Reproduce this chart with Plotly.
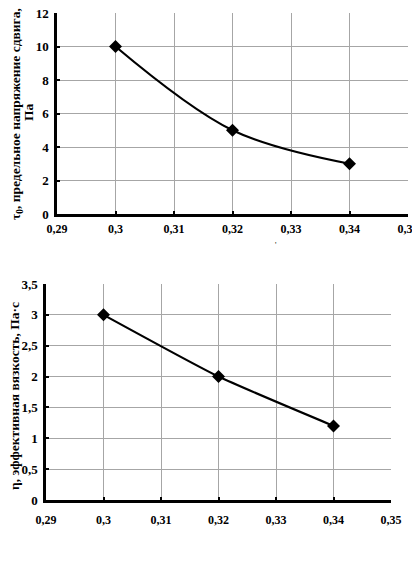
import plotly.graph_objects as go

# data
x_vals = [0.30, 0.32, 0.34]
tau0 = [10, 5, 3]
eta = [3, 2, 1.2]

FONT = "Liberation Serif"
# the page body has an 8px margin, so the figure is a bit smaller than the window
OFF = 8
W, H = 420 - OFF, 570 - OFF


def px(x, y):
    """window pixel position -> paper coordinates"""
    return (x - OFF) / W, 1 - (y - OFF) / H


def dom_x(a, b):
    return [max(0, (a - OFF) / W), min(1, (b - OFF) / W)]


def dom_y(top, bottom):
    return [max(0, 1 - (bottom - OFF) / H), min(1, 1 - (top - OFF) / H)]


fig = go.Figure()

fig.add_trace(go.Scatter(x=x_vals, y=tau0, mode="lines+markers",
                         line=dict(color="black", width=2.2, shape="spline"),
                         marker=dict(symbol="diamond", size=10, color="black"),
                         xaxis="x", yaxis="y", showlegend=False))
fig.add_trace(go.Scatter(x=x_vals, y=eta, mode="lines+markers",
                         line=dict(color="black", width=2.2, shape="spline", smoothing=0.5),
                         marker=dict(symbol="diamond", size=10, color="black"),
                         xaxis="x2", yaxis="y2", showlegend=False))

axis_common = dict(showgrid=True, gridcolor="#a6a6a6", gridwidth=1,
                   showline=True, linecolor="black", linewidth=2.5,
                   ticks="inside", ticklen=3, tickcolor="black", tickwidth=1.5,
                   zeroline=False, automargin=False, ticklabeloverflow="allow")
x_font = dict(family=FONT, size=12, color="black", weight="bold")
y_font = dict(family=FONT, size=13, color="black", weight="bold")

fig.update_layout(
    width=W, height=H,
    margin=dict(l=0, r=0, t=0, b=0),
    paper_bgcolor="white", plot_bgcolor="white",
    separators=", ",
    font=dict(family=FONT, color="black"),
    xaxis=dict(domain=dom_x(57, 408), anchor="y", range=[0.29, 0.35],
               dtick=0.01, tick0=0.29, tickfont=x_font, ticklabelstandoff=2,
               **axis_common),
    yaxis=dict(domain=dom_y(13, 214), anchor="x", range=[0, 12],
               dtick=2, tickfont=y_font, ticklabelstandoff=3, **axis_common),
    xaxis2=dict(domain=dom_x(46, 391), anchor="y2", range=[0.29, 0.35],
                dtick=0.01, tick0=0.29, tickfont=x_font, ticklabelstandoff=7,
                **axis_common),
    yaxis2=dict(domain=dom_y(284, 500), anchor="x2", range=[0, 3.5],
                dtick=0.5, tickfont=y_font, ticklabelstandoff=3, **axis_common),
)

title_font = dict(family=FONT, size=13.5, color="black", weight="bold")


def add_vtitle(text, x, y):
    ax, ay = px(x, y)
    fig.add_annotation(text=text, x=ax, y=ay, xref="paper", yref="paper",
                       xanchor="center", yanchor="middle", showarrow=False,
                       textangle=-90, font=title_font)


add_vtitle("τ<sub>0</sub>, предельное напряжение сдвига,", 17, 114)
add_vtitle("Па", 29, 112)
add_vtitle("η, эффективная вязкость, Па·с", 14, 396)

ax, ay = px(276, 245)
fig.add_annotation(text="'", x=ax, y=ay, xref="paper", yref="paper",
                   xanchor="center", yanchor="middle", showarrow=False,
                   font=dict(family=FONT, size=8, color="black"))

fig.write_html("out.html")
